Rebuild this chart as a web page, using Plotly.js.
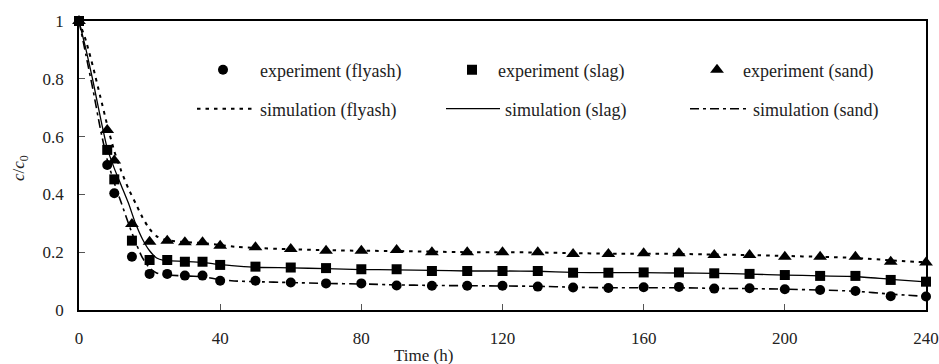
<!DOCTYPE html>
<html>
<head>
<meta charset="utf-8">
<script src="https://cdn.plot.ly/plotly-3.0.1.min.js"></script>
<style>html,body{margin:0;padding:0;background:#fff;}#chart{width:939px;height:364px;}</style>
</head>
<body>
<div id="chart"></div>
<script>
// Experimental data
const timeExp = [0, 8, 10, 15, 20, 25, 30, 35, 40, 50, 60, 70, 80, 90, 100, 110, 120, 130, 140, 150, 160, 170, 180, 190, 200, 210, 220, 230, 240];
const expFlyash = [1, 0.502, 0.404, 0.184, 0.125, 0.125, 0.119, 0.119, 0.101, 0.101, 0.095, 0.092, 0.092, 0.085, 0.084, 0.084, 0.084, 0.081, 0.078, 0.076, 0.079, 0.080, 0.074, 0.075, 0.072, 0.069, 0.066, 0.048, 0.047];
const expSlag   = [1, 0.554, 0.452, 0.240, 0.173, 0.173, 0.167, 0.167, 0.156, 0.150, 0.147, 0.145, 0.141, 0.141, 0.135, 0.135, 0.135, 0.135, 0.129, 0.129, 0.130, 0.130, 0.127, 0.125, 0.121, 0.118, 0.118, 0.104, 0.098];
const expSand   = [1, 0.623, 0.517, 0.298, 0.236, 0.240, 0.234, 0.234, 0.222, 0.217, 0.211, 0.205, 0.205, 0.208, 0.200, 0.200, 0.200, 0.200, 0.194, 0.194, 0.196, 0.196, 0.190, 0.190, 0.184, 0.184, 0.184, 0.167, 0.164];

// Simulation curves
const timeSim = [0, 2, 4, 6, 8, 10, 12, 14, 16, 18, 20, 22, 24, 26, 30, 35, 40, 45, 50, 60, 70, 80, 90, 100, 110, 120, 130, 140, 150, 160, 170, 180, 190, 200, 210, 220, 230, 240];
const simDotted  = [1, 0.93, 0.84, 0.74, 0.64, 0.55, 0.48, 0.42, 0.37, 0.32, 0.28, 0.255, 0.245, 0.24, 0.235, 0.232, 0.225, 0.218, 0.215, 0.21, 0.207, 0.205, 0.204, 0.202, 0.2, 0.2, 0.199, 0.197, 0.195, 0.195, 0.194, 0.192, 0.19, 0.187, 0.184, 0.18, 0.172, 0.165];
const simSolid   = [1, 0.9, 0.79, 0.67, 0.56, 0.49, 0.43, 0.37, 0.30, 0.245, 0.205, 0.18, 0.172, 0.17, 0.168, 0.165, 0.157, 0.152, 0.148, 0.146, 0.143, 0.14, 0.139, 0.137, 0.135, 0.135, 0.134, 0.13, 0.129, 0.129, 0.128, 0.127, 0.124, 0.121, 0.118, 0.116, 0.106, 0.097];
const simDashDot = [1, 0.88, 0.76, 0.63, 0.52, 0.44, 0.37, 0.30, 0.235, 0.18, 0.145, 0.128, 0.122, 0.12, 0.118, 0.115, 0.105, 0.1, 0.098, 0.095, 0.092, 0.09, 0.087, 0.085, 0.084, 0.083, 0.082, 0.079, 0.077, 0.077, 0.077, 0.075, 0.074, 0.072, 0.069, 0.065, 0.055, 0.047];

const xTicks = [0, 40, 80, 120, 160, 200, 240];
const yTicks = [0, 0.2, 0.4, 0.6, 0.8, 1];
const yTickText = ['0', '0.2', '0.4', '0.6', '0.8', '1'];
const xTitle = 'Time (h)';
const yTitle = '<i>c</i>/<i>c</i><sub>0</sub>';

const W = 939, H = 364;
const M = {l: 79, r: 13, t: 21, b: 54};
const pw = W - M.l - M.r, ph = H - M.t - M.b;
const px = v => (v - M.l) / pw;
const py = v => (H - M.b - v) / ph;

const FONT = 'Liberation Serif, Times New Roman, serif';
const TXT = '#222';
const legFont = {family: FONT, size: 18, color: TXT};

const traces = [
  {x: timeSim, y: simDotted, name: 'simulation (flyash)', mode: 'lines', legend: 'legend4',
   line: {color: '#000', width: 2, dash: '3.5px,5px', shape: 'spline', smoothing: 0.6}},
  {x: timeSim, y: simSolid, name: 'simulation (slag)', mode: 'lines', legend: 'legend5',
   line: {color: '#000', width: 1.3, shape: 'spline', smoothing: 0.6}},
  {x: timeSim, y: simDashDot, name: 'simulation (sand)', mode: 'lines', legend: 'legend6',
   line: {color: '#000', width: 1.6, dash: '9px,4px,3px,4px', shape: 'spline', smoothing: 0.6}},
  {x: timeExp, y: expFlyash, name: 'experiment (flyash)', mode: 'markers', legend: 'legend',
   marker: {symbol: 'circle', size: 10, color: '#000'}, cliponaxis: false},
  {x: timeExp, y: expSand, name: 'experiment (sand)', mode: 'markers', legend: 'legend3',
   marker: {symbol: 'triangle-up', size: 12, color: '#000'}, cliponaxis: false},
  {x: timeExp, y: expSlag, name: 'experiment (slag)', mode: 'markers', legend: 'legend2',
   marker: {symbol: 'square', size: 10, color: '#000'}, cliponaxis: false}
];

function leg(xPix, yPix, iw) {
  return {x: px(xPix), y: py(yPix), xanchor: 'left', yanchor: 'middle', bgcolor: 'rgba(0,0,0,0)',
          borderwidth: 0, font: legFont, itemwidth: iw, orientation: 'v', tracegroupgap: 0};
}

const layout = {
  width: W, height: H,
  margin: M,
  paper_bgcolor: '#fff', plot_bgcolor: '#fff',
  font: {family: FONT, size: 17, color: TXT},
  showlegend: true,
  legend:  leg(186, 70, 64),
  legend2: leg(446, 70, 42),
  legend3: leg(691, 70, 42),
  legend4: leg(192, 109, 58),
  legend5: leg(441, 109, 54),
  legend6: leg(685, 109, 58),
  xaxis: {
    range: [0, 240], tickvals: xTicks, ticktext: xTicks.map(String),
    ticks: 'inside', ticklen: 6, tickcolor: '#555', tickwidth: 1,
    showline: true, linecolor: '#000', linewidth: 1.8, mirror: true,
    showgrid: false, zeroline: false, ticklabelstandoff: 12,
    tickfont: {family: FONT, size: 17, color: TXT}
  },
  yaxis: {
    range: [0, 1], tickvals: yTicks, ticktext: yTickText,
    ticks: 'inside', ticklen: 6, tickcolor: '#555', tickwidth: 1,
    showline: true, linecolor: '#000', linewidth: 1.8, mirror: true,
    showgrid: false, zeroline: false, ticklabelstandoff: 10,
    tickfont: {family: FONT, size: 17, color: TXT}
  },
  annotations: [
    {text: xTitle, xref: 'paper', yref: 'paper', x: px(423), y: py(355), xanchor: 'center', yanchor: 'middle',
     showarrow: false, font: {family: FONT, size: 17, color: TXT}},
    {text: yTitle, xref: 'paper', yref: 'paper', x: px(20), y: py(168), xanchor: 'center', yanchor: 'middle',
     textangle: -90, showarrow: false, font: {family: FONT, size: 17, color: TXT}}
  ]
};

Plotly.newPlot('chart', traces, layout, {displayModeBar: false, staticPlot: true});
</script>
</body>
</html>
